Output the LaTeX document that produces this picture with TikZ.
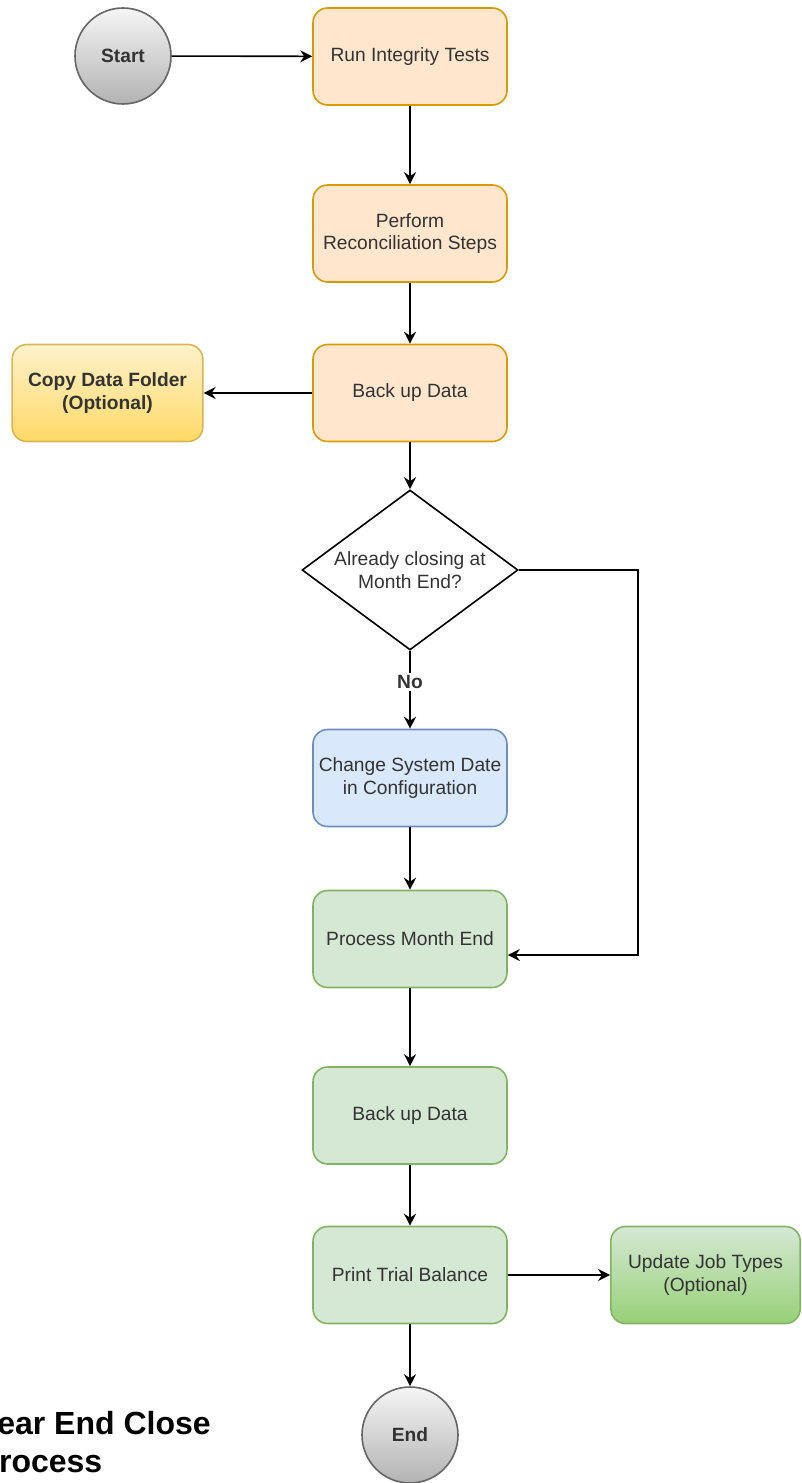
\documentclass[tikz,border=0pt]{standalone}
\usepackage{fontspec}
\setmainfont{Liberation Sans}
\usepackage{tikz}
\usetikzlibrary{arrows.meta,positioning,calc,shapes.geometric}
\definecolor{StepFill}{HTML}{FFE6CC}
\definecolor{StepLine}{HTML}{D79B00}
\definecolor{OptTop}{HTML}{FFF2CC}
\definecolor{OptBottom}{HTML}{FFD966}
\definecolor{OptLine}{HTML}{D6B656}
\definecolor{DateFill}{HTML}{DAE8FC}
\definecolor{DateLine}{HTML}{6C8EBF}
\definecolor{CloseFill}{HTML}{D5E8D4}
\definecolor{CloseLine}{HTML}{82B366}
\definecolor{JobBottom}{HTML}{97D077}
\definecolor{TermTop}{HTML}{F5F5F5}
\definecolor{TermBottom}{HTML}{B3B3B3}
\definecolor{TermLine}{HTML}{666666}
\definecolor{DarkText}{HTML}{333333}

\begin{document}
\begin{tikzpicture}[x=0.75pt,y=-0.75pt,
  box/.style={rectangle,rounded corners=11pt,line width=1.2pt,minimum width=145.5pt,minimum height=72.75pt,inner sep=2pt,align=center,text=DarkText,font=\fontsize{14.4}{17}\selectfont},
  stepbox/.style={box,draw=StepLine,fill=StepFill},
  optbox/.style={box,draw=OptLine,top color=OptTop,bottom color=OptBottom,font=\fontsize{14.4}{17}\selectfont\bfseries,minimum width=143pt},
  datebox/.style={box,draw=DateLine,fill=DateFill},
  closebox/.style={box,draw=CloseLine,fill=CloseFill},
  jobbox/.style={box,draw=CloseLine,top color=CloseFill,bottom color=JobBottom,minimum width=142pt},
  term/.style={circle,draw=TermLine,top color=TermTop,bottom color=TermBottom,line width=1.2pt,minimum size=72pt,inner sep=0pt,text=DarkText,font=\fontsize{14.4}{17}\selectfont\bfseries},
  decision/.style={diamond,aspect=1.35,draw=black,line width=1.2pt,minimum width=162pt,minimum height=120pt,inner sep=0pt,align=center,text=DarkText,font=\fontsize{14.4}{17}\selectfont},
  edge/.style={-{Stealth[length=9pt,width=9pt,inset=3pt]},line width=1.2pt,black}
]
\useasboundingbox (0,0) rectangle (801,1483);
\clip (0,0) rectangle (801,1483);

\node[term] (start) at (123,56) {Start};
\node[stepbox] (run) at (410,56.5) {Run Integrity Tests};
\node[stepbox] (recon) at (410,233.5) {Perform\\Reconciliation Steps};
\node[stepbox] (backup1) at (410,393) {Back up Data};
\node[optbox] (copy) at (107.5,393) {Copy Data Folder\\(Optional)};
\node[decision] (decide) at (410,570) {Already closing at\\Month End?};
\node[datebox] (change) at (410,778) {Change System Date\\in Configuration};
\node[closebox] (pme) at (410,939) {Process Month End};
\node[closebox] (backup2) at (410,1115.5) {Back up Data};
\node[closebox] (trial) at (410,1275) {Print Trial Balance};
\node[jobbox] (jobs) at (705.5,1275) {Update Job Types\\(Optional)};
\node[term] (end) at (410,1435) {End};

\node[anchor=base west,align=left,font=\fontsize{24}{28.5}\selectfont\bfseries] (title) at (-27,1472) {Year End Close\\Process};

\draw[edge] (start) -- (run);
\draw[edge] (run) -- (recon);
\draw[edge] (recon) -- (backup1);
\draw[edge] (backup1) -- (copy);
\draw[edge] (backup1) -- (decide);
\draw[edge] (decide) -- node[pos=0.4,fill=white,inner sep=2pt,font=\fontsize{14.4}{17}\selectfont\bfseries,text=DarkText] {No} (change);
\draw[edge] (decide.east) -- ++(119,0) |- ([yshift=-12pt]pme.east);
\draw[edge] (change) -- (pme);
\draw[edge] (pme) -- (backup2);
\draw[edge] (backup2) -- (trial);
\draw[edge] (trial) -- (jobs);
\draw[edge] (trial) -- (end);
\end{tikzpicture}
\end{document}
